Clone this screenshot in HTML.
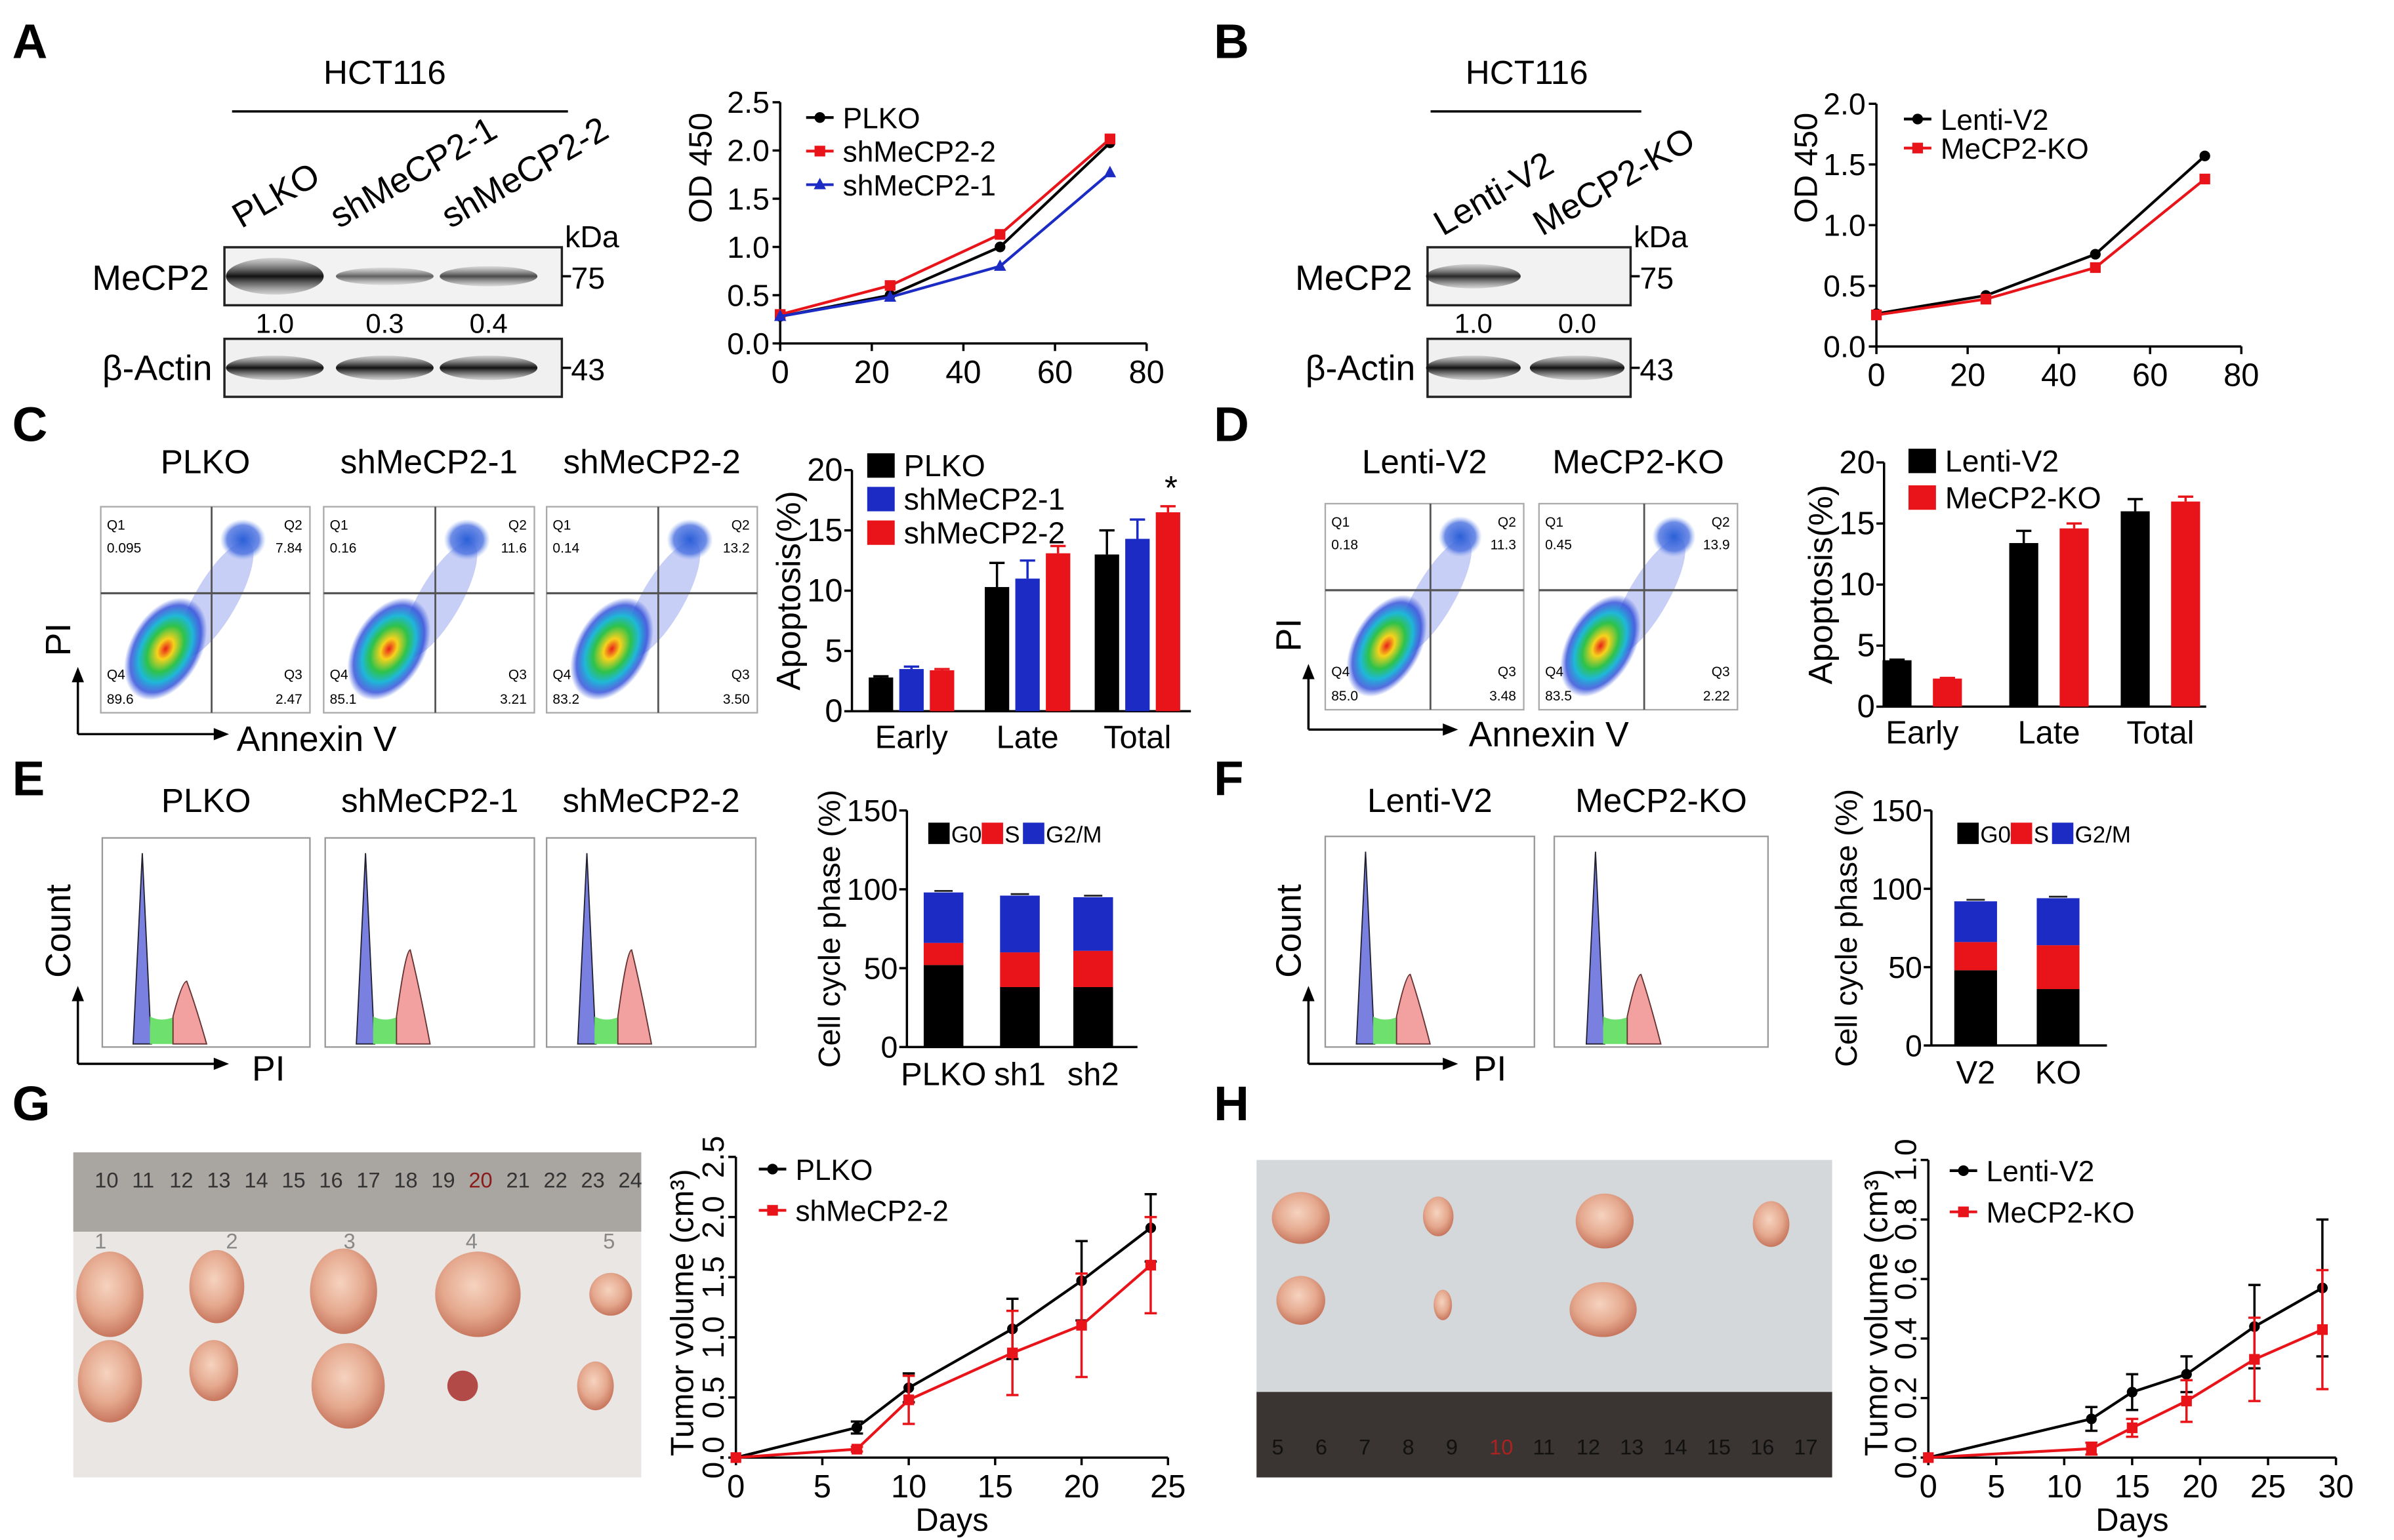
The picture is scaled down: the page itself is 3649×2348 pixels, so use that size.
<!DOCTYPE html>
<html><head><meta charset="utf-8"><style>
html,body{margin:0;padding:0;background:#fff;}
svg{display:block;font-family:"Liberation Sans Narrow","Liberation Sans",Arial,sans-serif;}
</style></head><body>
<svg id="fig" width="3649" height="2348" viewBox="0 0 1568 1009" preserveAspectRatio="none" xmlns="http://www.w3.org/2000/svg">
<defs>
<radialGradient id="dens" cx="50%" cy="50%" r="50%">
<stop offset="0" stop-color="#e8201a"/><stop offset="0.2" stop-color="#f7d21c"/><stop offset="0.45" stop-color="#2ec24a"/><stop offset="0.65" stop-color="#1fb8d8"/><stop offset="0.85" stop-color="#2a48d8" stop-opacity="0.8"/><stop offset="1" stop-color="#3050e0" stop-opacity="0"/>
</radialGradient>
<radialGradient id="q2g" cx="50%" cy="50%" r="50%">
<stop offset="0" stop-color="#2a5fd8"/><stop offset="0.7" stop-color="#4a70e0" stop-opacity="0.8"/><stop offset="1" stop-color="#8aa8f0" stop-opacity="0"/>
</radialGradient>
<radialGradient id="tum" cx="45%" cy="40%" r="60%">
<stop offset="0" stop-color="#f6d3bf"/><stop offset="0.6" stop-color="#e5a98f"/><stop offset="1" stop-color="#c7775e"/>
</radialGradient>
<linearGradient id="band" x1="0" x2="0" y1="0" y2="1">
<stop offset="0" stop-color="#555" stop-opacity="0.2"/><stop offset="0.5" stop-color="#111"/><stop offset="1" stop-color="#555" stop-opacity="0.2"/>
</linearGradient>
</defs>
<g id="root"></g>
</svg>
<script>
// ---------- data ----------
const odX = [0,24,48,72];
const odPLKO = [0.28,0.50,1.00,2.08];
const odSh2 = [0.30,0.60,1.13,2.12];
const odSh1 = [0.28,0.48,0.80,1.77];
const odLenti = [0.27,0.42,0.76,1.57];
const odKO = [0.26,0.39,0.65,1.38];
const odTicksA = [0,0.5,1.0,1.5,2.0,2.5];
const odTicksB = [0,0.5,1.0,1.5,2.0];
const xTicks80 = [0,20,40,60,80];

const apoCats = ["Early","Late","Total"];
const apoPLKO = [2.8,10.3,13.0];
const apoSh1 = [3.5,11.0,14.3];
const apoSh2 = [3.4,13.1,16.5];
const apoPLKOerr = [0.1,2.0,2.0];
const apoSh1err = [0.2,1.5,1.6];
const apoSh2err = [0.1,0.6,0.5];
const apoLenti = [3.8,13.4,16.0];
const apoKO = [2.3,14.6,16.8];
const apoLentiErr = [0.05,1.0,1.0];
const apoKOErr = [0.05,0.4,0.4];
const apoTicks = [0,5,10,15,20];

const ccCatsE = ["PLKO","sh1","sh2"];
const ccG0E = [52,38,38];
const ccSE = [14,22,23];
const ccG2E = [32,36,34];
const ccCatsF = ["V2","KO"];
const ccG0F = [48,36];
const ccSF = [18,28];
const ccG2F = [26,30];
const ccTicks = [0,50,100,150];

const tvXG = [0,7,10,16,20,24];
const tvPLKO = [0,0.25,0.58,1.07,1.47,1.91];
const tvPLKOerr = [0,0.05,0.12,0.25,0.33,0.28];
const tvSh2 = [0,0.07,0.48,0.87,1.10,1.60];
const tvSh2err = [0,0.02,0.2,0.35,0.43,0.4];
const tvTicksG = [0,0.5,1.0,1.5,2.0,2.5];
const tvXTicksG = [0,5,10,15,20,25];
const tvXH = [0,12,15,19,24,29];
const tvLenti = [0,0.13,0.22,0.28,0.44,0.57];
const tvLentiErr = [0,0.04,0.06,0.06,0.14,0.23];
const tvKOh = [0,0.03,0.10,0.19,0.33,0.43];
const tvKOhErr = [0,0.02,0.03,0.07,0.14,0.2];
const tvTicksH = [0,0.2,0.4,0.6,0.8,1.0];
const tvXTicksH = [0,5,10,15,20,25,30];

// ---------- helpers ----------
const NS = "http://www.w3.org/2000/svg";
const root = document.getElementById('root');
function mk(tag, attrs, name, parent){
  const el = document.createElementNS(NS, tag);
  for (const k in attrs) el.setAttribute(k, attrs[k]);
  
  
  (parent||root).appendChild(el);
  return el;
}
function txt(x,y,s,size,name,opt){
  opt = opt||{};
  const a = {x:x,y:y,'font-size':size,fill:opt.fill||'#000','text-anchor':opt.anchor||'start'};
  if(opt.weight) a['font-weight']=opt.weight;
  if(opt.family) a['font-family']=opt.family;
  if(opt.rot!==undefined) a.transform='rotate('+opt.rot+' '+x+' '+y+')';
  const t = mk('text', a, name, opt.parent);
  t.textContent = s;
  return t;
}
function line(x1,y1,x2,y2,name,stroke,w,parent){
  return mk('line',{x1:x1,y1:y1,x2:x2,y2:y2,stroke:stroke||'#000','stroke-width':w||1.5},name,parent);
}
function lin(d0,d1,r0,r1){ return v => r0 + (v-d0)/(d1-d0)*(r1-r0); }

// ---------- panel letters ----------
[["A",8,38],["B",795,38],["C",8,289],["D",795,289],["E",8,521],["F",795,521],["G",8,734],["H",795,734]].forEach(p=>{
  txt(p[1],p[2],p[0],32,'panel-label-'+p[0].toLowerCase(),{weight:'bold',family:'Liberation Sans, sans-serif'});
});

// ---------- western blots ----------
function blot(cfg){
  const g = mk('g',{},cfg.name);
  txt(cfg.titleX,55,'HCT116',22,'cell-line-title',{anchor:'middle',parent:g});
  line(cfg.lx1,73,cfg.lx2,73,'cell-line-underline','#000',1.5,g);
  cfg.lanes.forEach((l,i)=>{
    txt(cfg.laneX[i],cfg.laneY,l,23,'lane-label',{rot:-30,parent:g});
  });
  txt(cfg.kdaX,162,'kDa',20,'kda-label',{parent:g});
  mk('rect',{x:cfg.bx,y:162,width:cfg.bw,height:38,fill:'#f2f2f2',stroke:'#222','stroke-width':1.5},'mecp2-blot',g);
  mk('rect',{x:cfg.bx,y:222,width:cfg.bw,height:38,fill:'#f0f0f0',stroke:'#222','stroke-width':1.5},'actin-blot',g);
  cfg.bands.forEach((b,i)=>{
    if(b>0) mk('ellipse',{cx:cfg.bandX[i],cy:181,rx:cfg.bandW/2,ry:3+9*b,fill:'url(#band)',opacity:Math.min(1,0.35+b)},'mecp2-band',g);
    mk('ellipse',{cx:cfg.bandX[i],cy:241,rx:cfg.bandW/2,ry:8,fill:'url(#band)'},'actin-band',g);
    txt(cfg.bandX[i],218,cfg.vals[i],18,'band-quantification',{anchor:'middle',parent:g});
  });
  txt(cfg.bx-10,190,'MeCP2',23,'mecp2-label',{anchor:'end',parent:g});
  txt(cfg.bx-8,249,'β-Actin',23,'actin-label',{anchor:'end',parent:g});
  line(cfg.bx+cfg.bw,181,cfg.bx+cfg.bw+6,181,'marker-tick','#000',1.5,g);
  txt(cfg.bx+cfg.bw+6,189,'75',20,'marker-75',{parent:g});
  line(cfg.bx+cfg.bw,241,cfg.bx+cfg.bw+6,241,'marker-tick','#000',1.5,g);
  txt(cfg.bx+cfg.bw+6,249,'43',20,'marker-43',{parent:g});
}
blot({name:'blot-a',titleX:252,lx1:152,lx2:372,lanes:['PLKO','shMeCP2-1','shMeCP2-2'],laneX:[158,222,295],laneY:150,kdaX:370,
  bx:147,bw:221,bands:[1,0.3,0.4],bandX:[180,252,320],bandW:64,vals:['1.0','0.3','0.4']});
blot({name:'blot-b',titleX:1000,lx1:937,lx2:1075,lanes:['Lenti-V2','MeCP2-KO'],laneX:[945,1010],laneY:155,kdaX:1070,
  bx:935,bw:133,bands:[0.55,0],bandX:[965,1033],bandW:62,vals:['1.0','0.0']});

// ---------- line chart generic ----------
function lineChart(cfg){
  const g = mk('g',{},cfg.name);
  const X = lin(cfg.xd[0],cfg.xd[1],cfg.x0,cfg.x1);
  const Y = lin(0,cfg.yMax,cfg.y0,cfg.y1);
  line(cfg.x0,cfg.y0,cfg.x0,cfg.y1,'y-axis','#000',1.5,g);
  line(cfg.x0,cfg.y0,X(cfg.xTicks[cfg.xTicks.length-1]),cfg.y0,'x-axis','#000',1.5,g);
  cfg.yTicks.forEach(v=>{
    line(cfg.x0-5,Y(v),cfg.x0,Y(v),'y-tick','#000',1.5,g);
    const s = v.toFixed(1);
    if(cfg.yRot) txt(cfg.x0-8,Y(v),s,20,'y-tick-label',{anchor:'middle',rot:-90,parent:g});
    else txt(cfg.x0-7,Y(v)+7,s,20,'y-tick-label',{anchor:'end',parent:g});
  });
  cfg.xTicks.forEach(v=>{
    line(X(v),cfg.y0,X(v),cfg.y0+5,'x-tick','#000',1.5,g);
    txt(X(v),cfg.y0+26,String(v),21,'x-tick-label',{anchor:'middle',parent:g});
  });
  txt(cfg.titleX,cfg.titleY,cfg.yTitle,21,'y-axis-title',{anchor:'middle',rot:-90,parent:g});
  if(cfg.xTitle) txt((cfg.x0+cfg.x1)/2,cfg.y0+48,cfg.xTitle,21,'x-axis-title',{anchor:'middle',parent:g});
  cfg.series.forEach((s,si)=>{
    const pts = cfg.xs.map((x,i)=>X(x)+','+Y(s.v[i])).join(' ');
    mk('polyline',{points:pts,fill:'none',stroke:s.c,'stroke-width':1.8},'series-line-'+s.n,g);
    cfg.xs.forEach((x,i)=>{
      if(s.e && s.e[i]>0){
        line(X(x),Y(s.v[i]-s.e[i]),X(x),Y(s.v[i]+s.e[i]),'error-bar',s.c,1.5,g);
        line(X(x)-4,Y(s.v[i]+s.e[i]),X(x)+4,Y(s.v[i]+s.e[i]),'error-cap',s.c,1.5,g);
        line(X(x)-4,Y(s.v[i]-s.e[i]),X(x)+4,Y(s.v[i]-s.e[i]),'error-cap',s.c,1.5,g);
      }
      marker(X(x),Y(s.v[i]),s.m,s.c,g);
    });
    const ly = cfg.legY + si*cfg.legDy;
    line(cfg.legX,ly,cfg.legX+18,ly,'legend-line',s.c,1.8,g);
    marker(cfg.legX+9,ly,s.m,s.c,g);
    txt(cfg.legX+24,ly+7,s.n,cfg.legSize||19,'legend-entry',{parent:g});
  });
}
function marker(x,y,m,c,g){
  if(m==='c') mk('circle',{cx:x,cy:y,r:3.5,fill:c},'point',g);
  else if(m==='s') mk('rect',{x:x-3.5,y:y-3.5,width:7,height:7,fill:c},'point',g);
  else mk('polygon',{points:(x)+','+(y-4.5)+' '+(x-4)+','+(y+3)+' '+(x+4)+','+(y+3),fill:c},'point',g);
}
lineChart({name:'od-chart-a',xd:[0,80],x0:511,x1:751,y0:225,y1:67,yMax:2.5,yTicks:odTicksA,xTicks:xTicks80,xs:odX,
  yTitle:'OD 450',titleX:466,titleY:110,legX:528,legY:77,legDy:22,
  series:[{n:'PLKO',v:odPLKO,c:'#000',m:'c'},{n:'shMeCP2-2',v:odSh2,c:'#e8141a',m:'s'},{n:'shMeCP2-1',v:odSh1,c:'#1c2bc4',m:'t'}]});
lineChart({name:'od-chart-b',xd:[0,80],x0:1229,x1:1468,y0:227,y1:68,yMax:2.0,yTicks:odTicksB,xTicks:xTicks80,xs:odX,
  yTitle:'OD 450',titleX:1190,titleY:110,legX:1247,legY:78,legDy:19,
  series:[{n:'Lenti-V2',v:odLenti,c:'#000',m:'c'},{n:'MeCP2-KO',v:odKO,c:'#e8141a',m:'s'}]});
lineChart({name:'tumor-chart-g',xd:[0,25],x0:482,x1:765,y0:955,y1:758,yMax:2.5,yTicks:tvTicksG,xTicks:tvXTicksG,xs:tvXG,yRot:true,
  yTitle:'Tumor volume (cm³)',titleX:454,titleY:860,xTitle:'Days',legX:497,legY:766,legDy:27,
  series:[{n:'PLKO',v:tvPLKO,e:tvPLKOerr,c:'#000',m:'c'},{n:'shMeCP2-2',v:tvSh2,e:tvSh2err,c:'#e8141a',m:'s'}]});
lineChart({name:'tumor-chart-h',xd:[0,30],x0:1263,x1:1530,y0:955,y1:760,yMax:1.0,yTicks:tvTicksH,xTicks:tvXTicksH,xs:tvXH,yRot:true,
  yTitle:'Tumor volume (cm³)',titleX:1236,titleY:860,xTitle:'Days',legX:1277,legY:767,legDy:27,
  series:[{n:'Lenti-V2',v:tvLenti,e:tvLentiErr,c:'#000',m:'c'},{n:'MeCP2-KO',v:tvKOh,e:tvKOhErr,c:'#e8141a',m:'s'}]});

// ---------- grouped bar charts ----------
function groupBar(cfg){
  const g = mk('g',{},cfg.name);
  const Y = lin(0,20,cfg.y0,cfg.y1);
  line(cfg.x0,cfg.y0,cfg.x0,cfg.y1,'y-axis','#000',1.5,g);
  line(cfg.x0,cfg.y0,cfg.x2,cfg.y0,'x-axis','#000',1.5,g);
  apoTicks.forEach(v=>{
    line(cfg.x0-5,Y(v),cfg.x0,Y(v),'y-tick','#000',1.5,g);
    txt(cfg.x0-6,Y(v)+7,String(v),21,'y-tick-label',{anchor:'end',parent:g});
  });
  txt(cfg.titleX,(cfg.y0+cfg.y1)/2,'Apoptosis(%)',22,'y-axis-title',{anchor:'middle',rot:-90,parent:g});
  const n = cfg.series.length;
  apoCats.forEach((c,ci)=>{
    const cx = cfg.cx[ci];
    txt(cx,cfg.y0+24,c,21,'x-category-label',{anchor:'middle',parent:g});
    cfg.series.forEach((s,si)=>{
      const x = cx - n*cfg.bw/2 - (n-1)*cfg.gap/2 + si*(cfg.bw+cfg.gap);
      mk('rect',{x:x,y:Y(s.v[ci]),width:cfg.bw,height:cfg.y0-Y(s.v[ci]),fill:s.c},'bar-'+s.n+'-'+c,g);
      const top = Y(s.v[ci]+s.e[ci]);
      line(x+cfg.bw/2,Y(s.v[ci]),x+cfg.bw/2,top,'error-bar',s.c,1.5,g);
      line(x+cfg.bw/2-5,top,x+cfg.bw/2+5,top,'error-cap',s.c,1.5,g);
    });
  });
  cfg.series.forEach((s,si)=>{
    const ly = cfg.legY + si*cfg.legDy;
    mk('rect',{x:cfg.legX,y:ly-8,width:18,height:16,fill:s.c},'legend-swatch',g);
    txt(cfg.legX+24,ly+7,s.n,20,'legend-entry',{parent:g});
  });
  return {g:g,Y:Y};
}
const gc = groupBar({name:'apoptosis-chart-c',x0:558,x2:780,y0:466,y1:308,cx:[597,673,745],bw:16,gap:4,titleX:524,legX:568,legY:305,legDy:22,
  series:[{n:'PLKO',v:apoPLKO,e:apoPLKOerr,c:'#000'},{n:'shMeCP2-1',v:apoSh1,e:apoSh1err,c:'#1c2bc4'},{n:'shMeCP2-2',v:apoSh2,e:apoSh2err,c:'#e8141a'}]});
txt(767,gc.Y(17.6),'*',22,'significance-star',{anchor:'middle',parent:gc.g});
groupBar({name:'apoptosis-chart-d',x0:1234,x2:1445,y0:463,y1:303,cx:[1259,1342,1415],bw:19,gap:14,titleX:1200,legX:1250,legY:302,legDy:24,
  series:[{n:'Lenti-V2',v:apoLenti,e:apoLentiErr,c:'#000'},{n:'MeCP2-KO',v:apoKO,e:apoKOErr,c:'#e8141a'}]});

// ---------- stacked bar charts ----------
function stackBar(cfg){
  const g = mk('g',{},cfg.name);
  const Y = lin(0,150,cfg.y0,cfg.y1);
  line(cfg.x0,cfg.y0,cfg.x0,cfg.y1,'y-axis','#000',1.5,g);
  line(cfg.x0,cfg.y0,cfg.x2,cfg.y0,'x-axis','#000',1.5,g);
  ccTicks.forEach(v=>{
    line(cfg.x0-5,Y(v),cfg.x0,Y(v),'y-tick','#000',1.5,g);
    txt(cfg.x0-6,Y(v)+7,String(v),20,'y-tick-label',{anchor:'end',parent:g});
  });
  txt(cfg.titleX,(cfg.y0+cfg.y1)/2,'Cell cycle phase (%)',20,'y-axis-title',{anchor:'middle',rot:-90,parent:g});
  const cols=['#000','#e8141a','#1c2bc4'], names=['G0','S','G2/M'];
  cfg.cats.forEach((c,ci)=>{
    let acc=0;
    [cfg.g0,cfg.s,cfg.g2].forEach((arr,k)=>{
      const v=arr[ci];
      mk('rect',{x:cfg.cx[ci]-cfg.bw/2,y:Y(acc+v),width:cfg.bw,height:Y(acc)-Y(acc+v),fill:cols[k]},'bar-'+names[k]+'-'+c,g);
      acc+=v;
      line(cfg.cx[ci]-6,Y(acc)-1,cfg.cx[ci]+6,Y(acc)-1,'error-cap','#222',1.2,g);
    });
    txt(cfg.cx[ci],cfg.y0+25,c,21,'x-category-label',{anchor:'middle',parent:g});
  });
  let lx=cfg.legX;
  names.forEach((n,k)=>{
    mk('rect',{x:lx,y:cfg.legY-8,width:14,height:14,fill:cols[k]},'legend-swatch',g);
    txt(lx+15,cfg.legY+5,n,15,'legend-entry',{parent:g});
    lx += 15 + n.length*8 + 4;
  });
}
stackBar({name:'cell-cycle-chart-e',x0:594,x2:745,y0:686,y1:531,cats:ccCatsE,cx:[618,668,716],bw:26,g0:ccG0E,s:ccSE,g2:ccG2E,titleX:550,legX:608,legY:547});
stackBar({name:'cell-cycle-chart-f',x0:1265,x2:1380,y0:685,y1:531,cats:ccCatsF,cx:[1294,1348],bw:28,g0:ccG0F,s:ccSF,g2:ccG2F,titleX:1216,legX:1282,legY:547});

// ---------- flow cytometry dot plots ----------
function flowPlot(x,y,w,h,title,nums,name){
  const g = mk('g',{},name);
  txt(x+w/2,310,title,22,'flow-plot-title',{anchor:'middle',parent:g});
  mk('rect',{x:x,y:y,width:w,height:h,fill:'#fff',stroke:'#aaa','stroke-width':1},'plot-frame',g);
  const hx=x+w*0.55, hy=y+h*0.45;
  mk('ellipse',{cx:hx,cy:hy,rx:w*0.1,ry:h*0.32,fill:'#4a60e0',opacity:0.3,transform:'rotate(30 '+hx+' '+hy+')'},'scatter-haze',g);
  const cx=x+w*0.31, cy=y+h*0.69;
  mk('ellipse',{cx:cx,cy:cy,rx:w*0.17,ry:h*0.27,fill:'url(#dens)',transform:'rotate(30 '+cx+' '+cy+')'},'density-cluster',g);
  mk('ellipse',{cx:x+w*0.68,cy:y+h*0.16,rx:w*0.11,ry:h*0.1,fill:'url(#q2g)'},'q2-cluster',g);
  line(x,y+h*0.42,x+w,y+h*0.42,'quadrant-line-h','#555',1.4,g);
  line(x+w*0.53,y,x+w*0.53,y+h,'quadrant-line-v','#555',1.2,g);
  const f=9;
  txt(x+4,y+15,'Q1',f,'quadrant-label',{parent:g}); txt(x+4,y+30,nums[0],f,'quadrant-value',{parent:g});
  txt(x+w-5,y+15,'Q2',f,'quadrant-label',{anchor:'end',parent:g}); txt(x+w-5,y+30,nums[1],f,'quadrant-value',{anchor:'end',parent:g});
  txt(x+4,y+h-22,'Q4',f,'quadrant-label',{parent:g}); txt(x+4,y+h-6,nums[3],f,'quadrant-value',{parent:g});
  txt(x+w-5,y+h-22,'Q3',f,'quadrant-label',{anchor:'end',parent:g}); txt(x+w-5,y+h-6,nums[2],f,'quadrant-value',{anchor:'end',parent:g});
}
flowPlot(66,332,137,135,'PLKO',['0.095','7.84','2.47','89.6'],'flow-plot-plko');
flowPlot(212,332,138,135,'shMeCP2-1',['0.16','11.6','3.21','85.1'],'flow-plot-sh1');
flowPlot(358,332,138,135,'shMeCP2-2',['0.14','13.2','3.50','83.2'],'flow-plot-sh2');
flowPlot(868,330,130,135,'Lenti-V2',['0.18','11.3','3.48','85.0'],'flow-plot-lenti');
flowPlot(1008,330,130,135,'MeCP2-KO',['0.45','13.9','2.22','83.5'],'flow-plot-ko');

function axisArrows(x,yTop,yBot,xEnd,yl,xl,xlx,name){
  const g = mk('g',{},name);
  line(x,yBot,x,yTop+8,'arrow-y','#000',1.5,g);
  mk('polygon',{points:x+','+yTop+' '+(x-4)+','+(yTop+10)+' '+(x+4)+','+(yTop+10)},'arrow-head-y',g);
  line(x,yBot,xEnd-8,yBot,'arrow-x','#000',1.5,g);
  mk('polygon',{points:xEnd+','+yBot+' '+(xEnd-10)+','+(yBot-4)+' '+(xEnd-10)+','+(yBot+4)},'arrow-head-x',g);
  txt(x-5,yl,xl[0],23,'y-axis-title',{anchor:'middle',rot:-90,parent:g});
  txt(xlx,yBot+11,xl[1],23,'x-axis-title',{parent:g});
}
axisArrows(51,437,481,150,419,['PI','Annexin V'],155,'flow-axes-c');
axisArrows(857,435,478,955,416,['PI','Annexin V'],962,'flow-axes-d');
axisArrows(51,646,697,150,610,['Count','PI'],165,'hist-axes-e');
axisArrows(857,646,697,955,610,['Count','PI'],965,'hist-axes-f');

// ---------- cell cycle histograms ----------
function hist(x,y,w,h,title,g2h,name,ty){
  const g = mk('g',{},name);
  txt(x+w/2,ty,title,22,'histogram-title',{anchor:'middle',parent:g});
  mk('rect',{x:x,y:y,width:w,height:h,fill:'#fff',stroke:'#999','stroke-width':1},'plot-frame',g);
  const b=y+h-2;
  const p1=x+w*0.2, p2=x+w*0.37;
  mk('path',{d:'M'+(p1-7)+' '+b+' L'+(p1-1)+' '+(y+10)+' L'+(p1+4)+' '+(b-18)+' L'+(p1+5)+' '+b+'Z',fill:'#7a80e0',stroke:'#223',"stroke-width":0.8},'g0-peak',g);
  mk('path',{d:'M'+(p1+4)+' '+b+' L'+(p1+4)+' '+(b-18)+' Q'+(p1+12)+' '+(b-14)+' '+(p2-3)+' '+(b-18)+' L'+(p2-3)+' '+b+'Z',fill:'#6ee06e'},'s-phase',g);
  mk('path',{d:'M'+(p2-4)+' '+b+' L'+(p2-4)+' '+(b-18)+' Q'+(p2+2)+' '+(b-h*g2h)+' '+(p2+5)+' '+(b-h*g2h)+' Q'+(p2+11)+' '+(b-h*g2h*0.6)+' '+(p2+18)+' '+b+'Z',fill:'#f2a0a0',stroke:'#633','stroke-width':0.8},'g2m-peak',g);
}
hist(67,549,136,137,'PLKO',0.3,'histogram-plko',532);
hist(213,549,137,137,'shMeCP2-1',0.45,'histogram-sh1',532);
hist(358,549,137,137,'shMeCP2-2',0.45,'histogram-sh2',532);
hist(868,548,137,138,'Lenti-V2',0.33,'histogram-lenti',532);
hist(1018,548,140,138,'MeCP2-KO',0.33,'histogram-ko',532);

// ---------- tumor photos ----------
function photoG(){
  const g = mk('g',{},'tumor-photo-g');
  mk('rect',{x:48,y:755,width:372,height:213,fill:'#e9e6e4'},'photo-bg',g);
  mk('rect',{x:48,y:755,width:372,height:52,fill:'#a9a6a2'},'ruler',g);
  for(let i=0;i<15;i++) txt(62+i*24.5,778,String(10+i),14,'ruler-number',{fill:i==10?'#8b1a1a':'#333',parent:g});
  [[72,848,22,28],[142,843,18,24],[225,846,22,28],[313,848,28,28],[400,848,14,14],
   [72,905,21,27],[140,898,16,20],[228,908,24,28],[303,908,10,10],[390,908,12,16]].forEach((t,i)=>{
    mk('ellipse',{cx:t[0],cy:t[1],rx:t[2],ry:t[3],fill:i==8?'#b24a48':'url(#tum)'},'tumor',g);
  });
  ['1','2','3','4','5'].forEach((n,i)=>txt([62,148,225,305,395][i],818,n,14,'tumor-number',{fill:'#888',parent:g}));
}
photoG();
function photoH(){
  const g = mk('g',{},'tumor-photo-h');
  mk('rect',{x:823,y:760,width:377,height:208,fill:'#d4d8da'},'photo-bg',g);
  mk('rect',{x:823,y:912,width:377,height:56,fill:'#3a3432'},'ruler',g);
  for(let i=0;i<13;i++) txt(833+i*28.5,953,String(5+i),14,'ruler-number',{fill:i==5?'#a22':'#111',parent:g});
  [[852,798,19,17],[942,797,10,13],[1051,800,19,18],[1160,802,12,15],[852,852,16,16],[945,855,6,10],[1050,858,22,18]].forEach(t=>{
    mk('ellipse',{cx:t[0],cy:t[1],rx:t[2],ry:t[3],fill:'url(#tum)'},'tumor',g);
  });
}
photoH();
</script>
</body></html>
